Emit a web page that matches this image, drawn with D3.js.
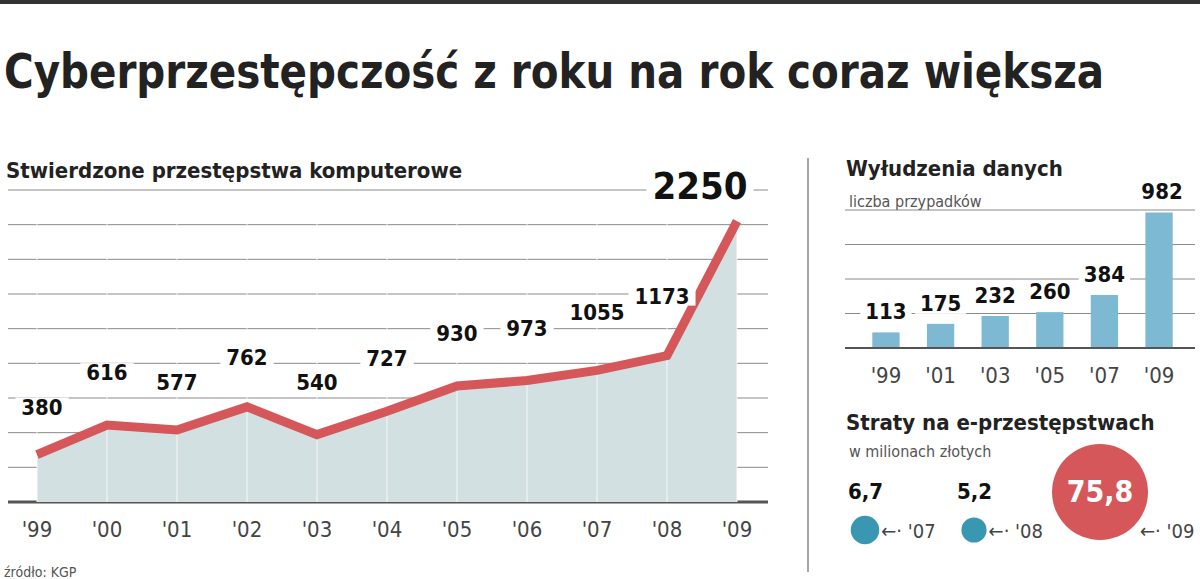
<!DOCTYPE html>
<html><head><meta charset="utf-8">
<script src="https://cdn.jsdelivr.net/npm/d3@7"></script>
<style>body{margin:0;background:#fff}text{font-family:"Liberation Sans Narrow","DejaVu Sans Condensed",sans-serif}</style>
</head><body><div id="chart"></div>
<script>
// Data
var years = ["'99","'00","'01","'02","'03","'04","'05","'06","'07","'08","'09"];
var crimes = [380,616,577,762,540,727,930,973,1055,1173,2250];
var phishYears = ["'99","'01","'03","'05","'07","'09"];
var phishing = [113,175,232,260,384,982];
var lossYears = ["'07","'08","'09"];
var losses = [6.7,5.2,75.8];
var lossLabels = ["6,7","5,2","75,8"];

var W = 1200, H = 579;
var svg = d3.select('#chart').append('svg').attr('width', W).attr('height', H);
var red = '#d5575a', grid = '#8a8a8a';

svg.append('rect').attr('x', 0).attr('y', 0).attr('width', W).attr('height', 4).style('fill', '#333');
svg.append('text').text('Cyberprzestępczość z roku na rok coraz większa')
    .attr('x', 4).attr('y', 88).attr('font-size', '48px').attr('font-weight', 'bold')
    .attr('textLength', 1100).attr('lengthAdjust', 'spacingAndGlyphs').style('fill', '#222');

// Left line chart
var x = d3.scalePoint().domain(years).range([37, 737]);
var y = d3.scaleLinear().domain([0, 2500]).range([502, 190]);
var g = svg.append('g');
d3.range(0, 2501, 2500 / 9).forEach(function(v, i) {
    g.append('line').attr('x1', 8).attr('x2', 768).attr('y1', y(v)).attr('y2', y(v))
        .style('stroke', i == 0 ? '#555' : grid).style('stroke-width', i == 0 ? 3 : 1);
});
g.append('path').datum(crimes)
    .attr('d', d3.area().x(function(d, i){ return x(years[i]); }).y0(y(0)).y1(function(d){ return y(d); }))
    .style('fill', '#d3e0e2');
years.forEach(function(yr) {
    g.append('line').attr('x1', x(yr)).attr('x2', x(yr)).attr('y1', y(0)).attr('y2', 200)
        .style('stroke', '#fff').style('stroke-width', 1).style('opacity', 0.8);
});
g.append('path').datum(crimes)
    .attr('d', d3.line().x(function(d, i){ return x(years[i]); }).y(function(d){ return y(d); }))
    .style('fill', 'none').style('stroke', red).style('stroke-width', 9).style('stroke-linejoin', 'miter');
var labelOff = [-40,-45,-40,-42,-45,-45,-45,-45,-50,-52,-22];
var labelDx = [5,0,0,0,0,0,0,0,0,-5,-37];
crimes.forEach(function(v, i) {
    var big = i == crimes.length - 1;
    var t = g.append('text').text(v)
        .attr('x', x(years[i]) + labelDx[i]).attr('y', y(v) + labelOff[i])
        .attr('text-anchor', 'middle').attr('font-size', big ? '38px' : '22px')
        .attr('font-weight', 'bold').style('fill', '#111');
    var b = t.node().getBBox();
    g.insert('rect', 'text').attr('x', b.x - 6).attr('y', b.y + 3).attr('width', b.width + 12).attr('height', b.height - 6)
        .style('fill', '#fff');
});
years.forEach(function(yr) {
    g.append('text').text(yr).attr('x', x(yr)).attr('y', 537).attr('text-anchor', 'middle')
        .attr('font-size', '22px').style('fill', '#444');
});
svg.append('text').text('Stwierdzone przestępstwa komputerowe').attr('x', 6).attr('y', 178)
    .attr('font-size', '22px').attr('font-weight', 'bold').style('fill', '#222');
svg.append('text').text('źródło: KGP').attr('x', 4).attr('y', 577).attr('font-size', '14px').style('fill', '#555');

svg.append('line').attr('x1', 808).attr('x2', 808).attr('y1', 158).attr('y2', 572)
    .style('stroke', '#888').style('stroke-width', 1.5);

// Right bar chart
var bx = d3.scaleBand().domain(phishYears).range([845, 1200]).padding(0.5);
var by = d3.scaleLinear().domain([0, 1000]).range([348, 210]);
var rg = svg.append('g');
[250, 500, 750, 1000].forEach(function(v) {
    rg.append('line').attr('x1', 845).attr('x2', 1195).attr('y1', by(v)).attr('y2', by(v)).style('stroke', grid);
});
phishing.forEach(function(v, i) {
    var t = rg.append('text').text(v).attr('x', bx(phishYears[i]) + bx.bandwidth() / 2 + (i == 5 ? 3 : 0))
        .attr('y', by(v) - 13).attr('text-anchor', 'middle').attr('font-size', '22px')
        .attr('font-weight', 'bold').style('fill', '#111');
    var b = t.node().getBBox();
    rg.insert('rect', 'text').attr('x', b.x - 5).attr('y', b.y + 2).attr('width', b.width + 10).attr('height', b.height - 4).style('fill', '#fff');
});
rg.selectAll('.bar').data(phishing).enter().append('rect')
    .attr('x', function(d, i){ return bx(phishYears[i]); })
    .attr('y', function(d){ return by(d); })
    .attr('width', bx.bandwidth())
    .attr('height', function(d){ return by(0) - by(d); })
    .style('fill', '#7db9d3');
rg.append('line').attr('x1', 845).attr('x2', 1195).attr('y1', by(0)).attr('y2', by(0)).style('stroke', '#555').style('stroke-width', 2);
phishYears.forEach(function(yr) {
    rg.append('text').text(yr).attr('x', bx(yr) + bx.bandwidth() / 2).attr('y', 383).attr('text-anchor', 'middle')
        .attr('font-size', '22px').style('fill', '#444');
});
rg.append('text').text('Wyłudzenia danych').attr('x', 846).attr('y', 176).attr('font-size', '22px').attr('font-weight', 'bold').style('fill', '#222');
rg.append('text').text('liczba przypadków').attr('x', 849).attr('y', 207).attr('font-size', '16px').style('fill', '#555');

// Bubbles
var r = d3.scaleSqrt().domain([0, 75.8]).range([0, 48]);
var bubX = [865, 974, 1100], bubY = [530, 530, 492];
var lg = svg.append('g');
lg.append('text').text('Straty na e-przestępstwach').attr('x', 846).attr('y', 430).attr('font-size', '22px').attr('font-weight', 'bold').style('fill', '#222');
lg.append('text').text('w milionach złotych').attr('x', 849).attr('y', 457).attr('font-size', '16px').style('fill', '#555');
losses.forEach(function(v, i) {
    var big = i == 2;
    lg.append('circle').attr('cx', bubX[i]).attr('cy', bubY[i]).attr('r', r(v)).style('fill', big ? red : '#3a97b1');
    lg.append('text').text(lossLabels[i]).attr('x', big ? bubX[i] : bubX[i] - 17).attr('y', big ? bubY[i] + 10 : 499)
        .attr('text-anchor', big ? 'middle' : 'start').attr('font-size', big ? '30px' : '22px')
        .attr('font-weight', 'bold').style('fill', big ? '#fff' : '#111');
    var ax = big ? 1140 : bubX[i] + r(v) + 2;
    lg.append('text').text('←· ' + lossYears[i]).attr('x', ax).attr('y', 538).attr('font-size', '20px').style('fill', '#444');
});
</script></body></html>
